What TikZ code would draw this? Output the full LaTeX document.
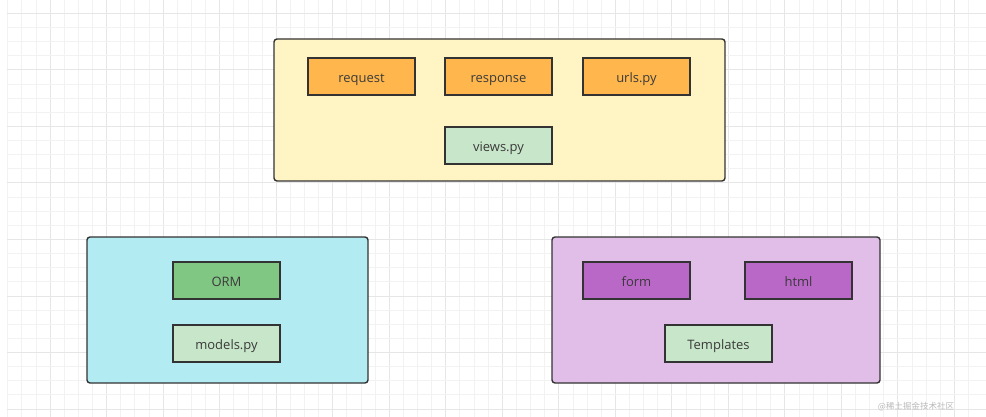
\documentclass[tikz,border=0pt]{standalone}
\usepackage{fontspec}
\setmainfont{Open Sans}
\newfontfamily\cjk{Noto Sans CJK SC}
\definecolor{gridminor}{HTML}{F2F2F2}
\definecolor{gridmajor}{HTML}{E6E6E6}
\definecolor{ybg}{HTML}{FFF5C4}
\definecolor{cbg}{HTML}{B2EBF2}
\definecolor{pbg}{HTML}{E1BEE7}
\definecolor{orangebox}{HTML}{FFB74D}
\definecolor{lgreen}{HTML}{C8E6C9}
\definecolor{dgreen}{HTML}{81C784}
\definecolor{purplebox}{HTML}{BA68C8}
\definecolor{edge}{HTML}{333333}
\definecolor{txt}{HTML}{3A3A3A}
\begin{document}
\begin{tikzpicture}[x=1pt,y=-1pt,
  panel/.style={draw=edge,line width=1.4pt,rounded corners=3pt},
  item/.style={draw=edge,line width=1.4pt,minimum width=107pt,minimum height=37pt,inner sep=0pt,text height=12pt,text depth=0pt,text=txt,font=\fontsize{13}{15}\selectfont},
]
\useasboundingbox (0,0) rectangle (986,417);
\fill[white] (0,0) rectangle (986,417);
% grid
\foreach \i in {0,...,68}{
  \pgfmathsetmacro{\xx}{7.7+14.13*\i}
  \pgfmathtruncatemacro{\m}{mod(\i,4)}
  \ifnum\m=3 \draw[gridmajor,line width=0.8pt] (\xx,0) -- (\xx,417);
  \else \draw[gridminor,line width=0.8pt] (\xx,0) -- (\xx,417); \fi
}
\foreach \j in {0,...,29}{
  \pgfmathsetmacro{\yy}{-0.8+14.13*\j}
  \pgfmathtruncatemacro{\m}{mod(\j,4)}
  \ifnum\m=1 \draw[gridmajor,line width=0.8pt] (7,\yy) -- (986,\yy);
  \else \draw[gridminor,line width=0.8pt] (7,\yy) -- (986,\yy); \fi
}
% panels
\node[panel,fill=ybg,minimum width=451pt,minimum height=142pt,inner sep=0pt] (top) at (499.5,110) {};
\node[panel,fill=cbg,minimum width=281pt,minimum height=146pt,inner sep=0pt] (left) at (227.5,310) {};
\node[panel,fill=pbg,minimum width=328pt,minimum height=146pt,inner sep=0pt] (right) at (716,310) {};
% items
\node[item,fill=orangebox] (request) at (361.5,76.5) {request};
\node[item,fill=orangebox] (response) at (498.5,76.5) {response};
\node[item,fill=orangebox] (urls) at (636.5,76.5) {urls.py};
\node[item,fill=lgreen] (views) at (498.5,145.5) {views.py};
\node[item,fill=dgreen] (orm) at (226.5,280.5) {ORM};
\node[item,fill=lgreen] (models) at (226.5,343.5) {models.py};
\node[item,fill=purplebox] (form) at (636.5,280.5) {form};
\node[item,fill=purplebox] (html) at (798.5,280.5) {html};
\node[item,fill=lgreen] (templates) at (718.5,343.5) {Templates};
% watermark
\node[text=gray!55,font=\cjk\fontsize{8.5}{9}\selectfont,inner sep=0pt] (wm) at (916,407) {@稀土掘金技术社区};
\end{tikzpicture}
\end{document}
